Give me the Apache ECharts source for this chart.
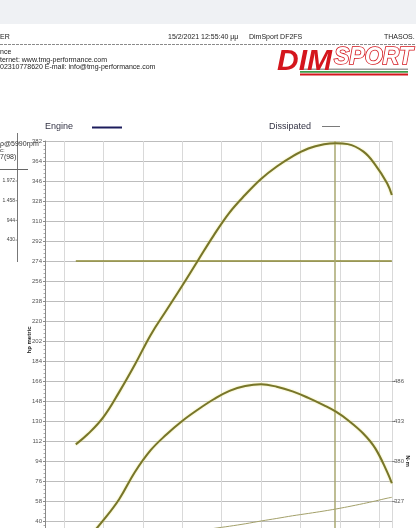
<!DOCTYPE html>
<html>
<head>
<meta charset="utf-8">
<script src="https://cdn.jsdelivr.net/npm/echarts@6/dist/echarts.min.js"></script>
<style>
html,body{margin:0;padding:0;background:#fff;overflow:hidden;}
#chart{width:416px;height:528px;}
</style>
</head>
<body>
<div id="chart"></div>
<script>
// ---- data ----
const rpm = [1650, 1800, 2000, 2200, 2400, 2600, 2800, 3000, 3200, 3400, 3600, 3800, 4000, 4200, 4400, 4600, 4800, 4950, 5100, 5300, 5450, 5600, 5660];
const powerHp = [109, 118, 133.5, 156, 180.8, 207.5, 229.6, 251.7, 274.5, 297.1, 317.6, 333.6, 347.8, 359, 368.2, 375.2, 379, 380, 379.2, 372.4, 360.6, 344, 333.4];
const torqueNm = [259, 277, 301.6, 329.4, 365.4, 394.3, 415.1, 433, 448.2, 461.8, 473, 479.3, 481.6, 478.4, 472.2, 463.6, 453.7, 445.3, 434.3, 416.1, 396.7, 365.6, 350.5];
const dissipatedHp = [19, 20, 21.5, 23, 24.5, 26, 27.5, 29, 31, 33.3, 35.3, 37.5, 40, 42.3, 44.7, 46.8, 49, 50.8, 52.8, 55.7, 58, 60.5, 61.3];
const refLineHp = 274;
const refLineRpm = [1650, 5660];
const peakRpm = 4940;
const hpAxis = {min: 22, max: 382, interval: 18};
const nmAxis = {min: 274, max: 804, interval: 53};
const nmTickLabels = [327, 380, 433, 486];
const sidePanelLabels = ['1.972', '1.458', '944', '430'];
const headerTexts = ['ER', '15/2/2021 12:55:40 μμ', 'DimSport DF2FS', 'THASOS.'];
const infoLines = ['nce', 'ternet: www.tmg-performance.com', '02310778620 E-mail: info@tmg-performance.com'];

const zip = (xs, ys) => xs.map((x, i) => [x, ys[i]]);
const FONT = 'Liberation Sans, Arial, sans-serif';

const chart = echarts.init(document.getElementById('chart'), null, {renderer: 'canvas'});

const graphics = [
  {type: 'rect', shape: {x: 0, y: 0, width: 416, height: 24}, style: {fill: '#eff1f4'}, silent: true},
  {type: 'line', shape: {x1: 0, y1: 44.5, x2: 416, y2: 44.5}, style: {stroke: '#8a8a8a', lineWidth: 1, lineDash: [3, 1]}},
];
const hx = [0, 168, 249, 384];
headerTexts.forEach((t, i) => graphics.push({type: 'text', x: hx[i], y: 37, style: {text: t, font: '7px ' + FONT, fill: '#222', textVerticalAlign: 'middle'}}));
infoLines.forEach((t, i) => graphics.push({type: 'text', x: 0, y: 52 + i * 7.6, style: {text: t, font: '7px ' + FONT, fill: '#222', textVerticalAlign: 'middle'}}));
// logo
graphics.push(
  {type: 'rect', shape: {x: 300, y: 68.5, width: 108, height: 1.6}, style: {fill: '#9a9a9a'}},
  {type: 'rect', shape: {x: 300, y: 71, width: 108, height: 1.8}, style: {fill: '#3d9b47'}},
  {type: 'rect', shape: {x: 300, y: 73.6, width: 108, height: 1.8}, style: {fill: '#d4161d'}},
  {type: 'text', x: 277, y: 62, style: {text: 'DIM', font: 'italic 900 30px ' + FONT, fill: '#d4161d', textVerticalAlign: 'middle'}},
  {type: 'text', x: 334, y: 58, style: {text: 'SPORT', font: 'italic bold 23px ' + FONT, fill: '#ffffff', stroke: '#d4161d', lineWidth: 1.6, textVerticalAlign: 'middle'}}
);
// legend
graphics.push(
  {type: 'text', x: 45, y: 127, style: {text: 'Engine', font: '9px ' + FONT, fill: '#333344', textVerticalAlign: 'middle'}},
  {type: 'line', shape: {x1: 92, y1: 127.5, x2: 122, y2: 127.5}, style: {stroke: '#1c1c5c', lineWidth: 2}},
  {type: 'text', x: 269, y: 127, style: {text: 'Dissipated', font: '9px ' + FONT, fill: '#333344', textVerticalAlign: 'middle'}},
  {type: 'line', shape: {x1: 322, y1: 126.5, x2: 340, y2: 126.5}, style: {stroke: '#7a7a7a', lineWidth: 1}}
);
// side panel
graphics.push(
  {type: 'line', shape: {x1: 17.5, y1: 133, x2: 17.5, y2: 262}, style: {stroke: '#777', lineWidth: 1}},
  {type: 'line', shape: {x1: 0, y1: 169.5, x2: 28, y2: 169.5}, style: {stroke: '#666', lineWidth: 1}},
  {type: 'text', x: 0, y: 144, style: {text: 'ρ@5990rpm', font: '7px ' + FONT, fill: '#333', textVerticalAlign: 'middle'}},
  {type: 'text', x: 0, y: 150.5, style: {text: 'c:', font: '6px ' + FONT, fill: '#333', textVerticalAlign: 'middle'}},
  {type: 'text', x: 0, y: 157, style: {text: '7(98)', font: '7px ' + FONT, fill: '#333', textVerticalAlign: 'middle'}}
);
sidePanelLabels.forEach((t, i) => {
  graphics.push({type: 'text', x: 15, y: 181 + i * 19.7, style: {text: t, font: '5px ' + FONT, fill: '#444', textAlign: 'right', textVerticalAlign: 'middle'}});
  graphics.push({type: 'line', shape: {x1: 15.5, y1: 181 + i * 19.7, x2: 17.5, y2: 181 + i * 19.7}, style: {stroke: '#777', lineWidth: 0.8}});
});
graphics.push({type: 'text', x: 29, y: 340, rotation: Math.PI / 2, style: {text: 'hp metric', font: 'bold 6px ' + FONT, fill: '#222', textAlign: 'center', textVerticalAlign: 'middle'}});
graphics.push({type: 'text', x: 408, y: 461, rotation: -Math.PI / 2, style: {text: 'N·m', font: 'bold 6px ' + FONT, fill: '#222', textAlign: 'center', textVerticalAlign: 'middle'}});

const curve = '#77752a';

chart.setOption({
  animation: false,
  backgroundColor: '#ffffff',
  grid: {left: 45, top: 141, width: 347, height: 400, containLabel: false, outerBoundsMode: 'none'},
  graphic: graphics,
  xAxis: {
    type: 'value', min: 1259, max: 5662, splitNumber: 9,
    axisLine: {show: false}, axisTick: {show: false}, axisLabel: {show: false},
    splitLine: {show: true, lineStyle: {color: '#d9d9d9', width: 1}}
  },
  yAxis: [
    {
      type: 'value', position: 'left', min: hpAxis.min, max: hpAxis.max, interval: hpAxis.interval,
      axisLine: {show: true, lineStyle: {color: '#8a8a8a', width: 1}},
      axisTick: {show: true, length: 2, lineStyle: {color: '#888'}},
      minorTick: {show: true, splitNumber: 5, length: 1.5, lineStyle: {color: '#aaa'}},
      axisLabel: {fontSize: 6, color: '#555', margin: 3, fontFamily: FONT},
      splitLine: {show: true, lineStyle: {color: '#bdbdbd', width: 1}}
    },
    {
      type: 'value', position: 'right', min: nmAxis.min, max: nmAxis.max, interval: nmAxis.interval,
      axisLine: {show: false},
      axisTick: {show: true, length: 3, customValues: nmTickLabels, lineStyle: {color: '#888'}},
      axisLabel: {fontSize: 6, color: '#555', margin: 2, fontFamily: FONT, customValues: nmTickLabels},
      splitLine: {show: false}
    }
  ],
  series: [
    {
      name: 'Power', type: 'line', yAxisIndex: 0, data: zip(rpm, powerHp), smooth: 0.4, symbol: 'none',
      lineStyle: {color: curve, width: 2, shadowColor: 'rgba(230,225,110,0.8)', shadowBlur: 2}, z: 5,
      markLine: {
        silent: true, symbol: 'none', label: {show: false},
        lineStyle: {color: '#a9a771', width: 1.5, type: 'solid'},
        data: [{xAxis: peakRpm}]
      }
    },
    {
      name: 'Torque', type: 'line', yAxisIndex: 1, data: zip(rpm, torqueNm), smooth: 0.4, symbol: 'none',
      lineStyle: {color: curve, width: 2, shadowColor: 'rgba(230,225,110,0.8)', shadowBlur: 2}, z: 5
    },
    {
      name: 'Dissipated', type: 'line', yAxisIndex: 0, data: zip(rpm, dissipatedHp), smooth: 0.4, symbol: 'none',
      lineStyle: {color: '#a3a06a', width: 1}, z: 4
    },
    {
      name: 'Reference', type: 'line', yAxisIndex: 0, data: zip(refLineRpm, [refLineHp, refLineHp]), symbol: 'none',
      lineStyle: {color: '#8c8a34', width: 1.5}, z: 4
    }
  ]
});
</script>
</body>
</html>
